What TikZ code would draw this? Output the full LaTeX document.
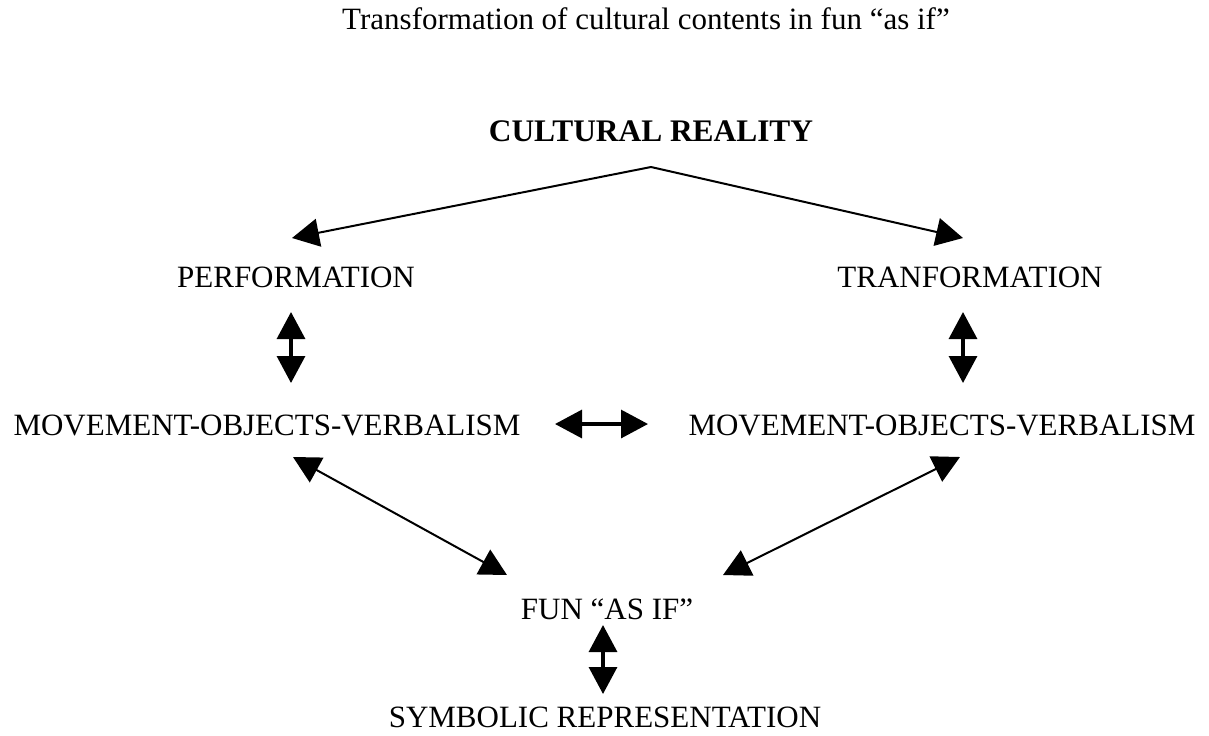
\documentclass[tikz,border=0pt]{standalone}
\usepackage{fontspec}
\setmainfont{Liberation Serif}
\usetikzlibrary{arrows.meta}

\begin{document}
\begin{tikzpicture}[
		x=0.5pt, y=-0.5pt,
		label/.style={
			anchor=base,
			inner sep=0pt,
			font=\fontsize{15.5}{18}\selectfont,
		},
		thinarrow/.style={
			line width=1pt,
			>={Triangle[length=13.5pt, width=14pt]},
		},
		thickarrow/.style={
			line width=1.6pt,
			>={Triangle[length=13.5pt, width=14pt]},
		}
	]

		\useasboundingbox (0,0) rectangle (1209,735);

		% Textes
		\node[label] (title) at (646,29) {Transformation of cultural contents in fun “as if”};
		\node[label, font=\fontsize{15.7}{18}\selectfont\bfseries] (reality) at (651,141) {CULTURAL REALITY};
		\node[label] (perf) at (296,287) {PERFORMATION};
		\node[label] (tranf) at (970,287) {TRANFORMATION};
		\node[label] (movleft) at (267,435) {MOVEMENT-OBJECTS-VERBALISM};
		\node[label] (movright) at (942,435) {MOVEMENT-OBJECTS-VERBALISM};
		\node[label] (fun) at (607,619) {FUN “AS IF”};
		\node[label] (symbolic) at (605,727) {SYMBOLIC REPRESENTATION};

		% Points d'attache des fleches
		\coordinate (apex) at (651,167);
		\coordinate (perftop) at (292,238);
		\coordinate (tranftop) at (963,238);
		\coordinate (perfdown) at (291,312);
		\coordinate (movlefttop) at (291,383);
		\coordinate (tranfdown) at (963,312);
		\coordinate (movrighttop) at (963,383);
		\coordinate (movleftend) at (555,424);
		\coordinate (movrightend) at (648,424);
		\coordinate (movleftdown) at (293,457);
		\coordinate (funleft) at (507,575);
		\coordinate (movrightdown) at (960,457);
		\coordinate (funright) at (723,575);
		\coordinate (fundown) at (603,625);
		\coordinate (symbolictop) at (603,694);

		% Fleches
		\draw[thinarrow, ->] (apex) -- (perftop);
		\draw[thinarrow, ->] (apex) -- (tranftop);
		\draw[thickarrow, <->] (perfdown) -- (movlefttop);
		\draw[thickarrow, <->] (tranfdown) -- (movrighttop);
		\draw[thickarrow, <->] (movleftend) -- (movrightend);
		\draw[thinarrow, <->] (movleftdown) -- (funleft);
		\draw[thinarrow, <->] (movrightdown) -- (funright);
		\draw[thickarrow, <->] (fundown) -- (symbolictop);

	\end{tikzpicture}
\end{document}
